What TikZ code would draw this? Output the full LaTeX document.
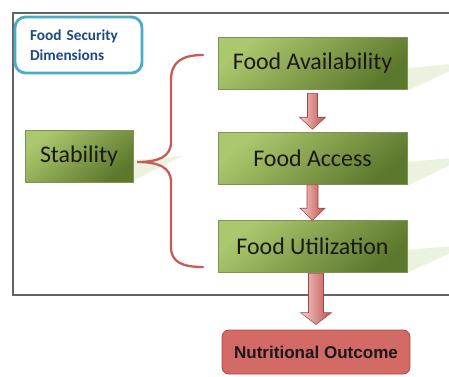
\documentclass[tikz,border=0pt]{standalone}
\usepackage{fontspec}
\usepackage{tikz}
\usetikzlibrary{calc}
\newfontfamily\carlito{Carlito}
\newfontfamily\arialfont{Liberation Sans}
\definecolor{greenlight}{RGB}{172, 200, 110}
\definecolor{greendark}{RGB}{92, 120, 44}
\definecolor{greenshadow}{RGB}{236, 242, 224}
\definecolor{secblue}{RGB}{75, 172, 198}
\definecolor{sectext}{RGB}{31, 73, 125}
\definecolor{bracered}{RGB}{200, 90, 88}
\definecolor{arrowlight}{RGB}{244, 206, 204}
\definecolor{arrowdark}{RGB}{192, 80, 77}
\definecolor{nutred}{RGB}{211, 106, 101}
\definecolor{nutedge}{RGB}{180, 72, 68}
\definecolor{framegray}{RGB}{100, 100, 100}

\tikzset{
  dimbox/.style={draw=greendark!80, line width=0.3pt, top color=greenlight, bottom color=greendark,
    shading angle=40, minimum width=3.78cm, minimum height=1.04cm, inner sep=0pt,
    font=\carlito\fontsize{13.6}{16}\selectfont, text=black!90},
  flowarrow/.style={draw=arrowdark!85!black, line width=0.3pt, left color=arrowlight, right color=arrowdark},
  brace/.style={draw=bracered, line width=1.3pt, line cap=round}
}

% block arrow: from, to, half shaft, half head, start gap, end gap
\newcommand{\flowarrow}[6]{%
  \path[flowarrow] ($(#1.south -| #2.north)+(-#3,#5)$) -- ($(#1.south -| #2.north)+(#3,#5)$)
    -- ($(#2.north)+(#3,-#6-12)$) -- ($(#2.north)+(#4,-#6-12)$) -- ($(#2.north)+(0,-#6)$)
    -- ($(#2.north)+(-#4,-#6-12)$) -- ($(#2.north)+(-#3,-#6-12)$) -- cycle;
}

\begin{document}
\begin{tikzpicture}[x=0.02cm, y=-0.02cm]
  \useasboundingbox (0,0) rectangle (449,376);

  % Frame
  \draw[framegray, line width=0.6pt] (449,13) -- (13,13) -- (13,295) -- (449,295);

  % Shadows
  \fill[greenshadow] (407,68) -- (452,64) -- (452,70) -- (407,91) -- cycle;
  \fill[greenshadow] (407,162) -- (452,158) -- (452,164) -- (407,186) -- cycle;
  \fill[greenshadow] (407,250) -- (452,246) -- (452,252) -- (407,273) -- cycle;
  \fill[greenshadow] (133,160) -- (182,156) -- (133,181) -- cycle;

  % Title
  \node[draw=secblue, line width=1.6pt, rounded corners=6pt, minimum width=2.54cm, minimum height=1.12cm,
    text width=1.94cm, align=left, inner xsep=0.3cm, text=sectext,
    font=\carlito\bfseries\fontsize{8.7}{11.4}\selectfont] (title) at (78.5,45) {Food Security\\Dimensions};

  % Dimensions
  \node[dimbox] (avail) at (312.5,63) {Food Availability};
  \node[dimbox] (access) at (312.5,158.5) {Food Access};
  \node[dimbox] (util) at (312.5,246.5) {Food Utilization};
  \node[dimbox, minimum width=2.16cm] (stab) at (79,156) {Stability};

  % Outcome
  \node[fill=nutred, draw=nutedge, line width=0.5pt, rounded corners=4pt, minimum width=3.76cm,
    minimum height=0.88cm, text=black!90, font=\arialfont\bfseries\fontsize{9.7}{12}\selectfont] (outcome) at (316,352) {Nutritional Outcome};

  % Brace
  \coordinate (bt) at (203,55);
  \coordinate (bb) at (203,267);
  \coordinate (tip) at ($(stab.east)+(4,6)$);
  \draw[brace] (bt) .. controls (182,55) and (171,62) .. (171,80) -- (171,142)
    .. controls (171,157) and (158,162) .. (tip)
    .. controls (158,162) and (171,167) .. (171,182) -- (171,247)
    .. controls (171,262) and (182,267) .. (bb);

  % Arrows
  \flowarrow{avail}{access}{5}{13}{4}{3}
  \flowarrow{access}{util}{5.5}{12.5}{0}{0}
  \flowarrow{util}{outcome}{7.5}{15.5}{0.5}{5}
\end{tikzpicture}
\end{document}
